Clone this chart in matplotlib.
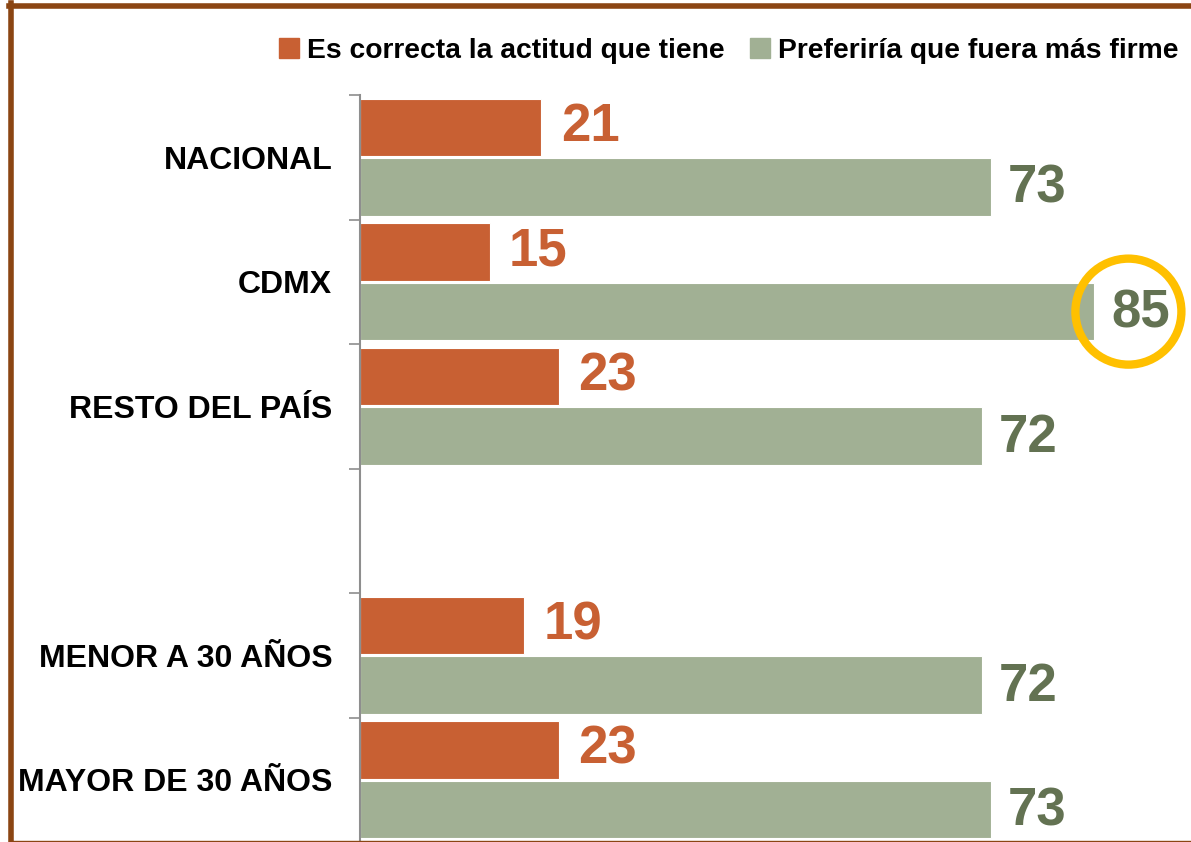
import matplotlib
matplotlib.use("Agg")
import matplotlib.pyplot as plt
from matplotlib.patches import Ellipse
from matplotlib.lines import Line2D
import numpy as np

plt.rcParams['font.family'] = ['Liberation Sans', 'DejaVu Sans']

categories = ["NACIONAL", "CDMX", "RESTO DEL PAÍS", "", "MENOR A 30 AÑOS", "MAYOR DE 30 AÑOS"]
correcta = [21, 15, 23, None, 19, 23]
firme = [73, 85, 72, None, 72, 73]
series_names = ["Es correcta la actitud que tiene", "Preferiría que fuera más firme"]
highlight_index = 1  # CDMX firme

c_orange = "#C86033"
c_green = "#A1B094"
c_green_txt = "#637252"
c_border = "#8B4513"

W, H = 1191, 842
fig = plt.figure(figsize=(W/100, H/100), dpi=100)
ax_left = 360 / W
ax_top = 1 - 95 / H
ax = fig.add_axes([ax_left, 0, 1 - ax_left, ax_top])

px_per_unit = 8.64
ax.set_xlim(0, (W - 360) / px_per_unit)
ax.set_ylim(len(categories) - 0.5, -0.5)

y = np.arange(len(categories))
off = 0.24
h = 0.46
for i in range(len(categories)):
    if correcta[i] is None:
        continue
    ax.barh(y[i] - off, correcta[i], height=h, color=c_orange, edgecolor="white", linewidth=0.8)
    ax.barh(y[i] + off, firme[i], height=h, color=c_green, edgecolor="white", linewidth=0.8)
    ax.annotate(str(correcta[i]), (correcta[i], y[i] - off), xytext=(14, 0), textcoords="offset points",
                ha="left", va="center", fontsize=38, fontweight="bold", color=c_orange)
    ax.annotate(str(firme[i]), (firme[i], y[i] + off), xytext=(12, -1), textcoords="offset points",
                ha="left", va="center", fontsize=38, fontweight="bold", color=c_green_txt)

# category labels
ax.set_yticks(y)
ax.set_yticklabels(categories, fontsize=23, fontweight="bold")
ax.tick_params(axis="y", length=0, pad=20)
ax.set_yticks(np.arange(len(categories) + 1) - 0.5, minor=True)
ax.tick_params(axis="y", which="minor", length=8, color="#8E8E8E", width=1.2)
ax.set_xticks([])
for s in ["top", "right", "bottom"]:
    ax.spines[s].set_visible(False)
ax.spines["left"].set_color("#8E8E8E")
ax.spines["left"].set_linewidth(1.5)

# legend
handles = [plt.Rectangle((0, 0), 1, 1, color=c_orange), plt.Rectangle((0, 0), 1, 1, color=c_green)]
leg = fig.legend(handles, series_names, loc="center", bbox_to_anchor=(729 / W, 1 - 51 / H), ncol=2,
                 frameon=False, prop={"size": 20.3, "weight": "bold"}, handlelength=0.7, handleheight=0.7,
                 handletextpad=0.3, columnspacing=0.9, borderpad=0.2)

# highlight circle
fig.canvas.draw()
cx, cy = ax.transData.transform((firme[highlight_index], y[highlight_index] + off))
cx += 34
r = 53
fig.add_artist(Ellipse((cx / W, cy / H), 2 * r / W, 2 * r / H, transform=fig.transFigure,
                       fill=False, edgecolor="#FFC000", linewidth=6, zorder=5))

# border
fig.add_artist(Line2D([10.5 / W, 10.5 / W], [0, 1 - 3 / H], transform=fig.transFigure, color=c_border, linewidth=4))
fig.add_artist(Line2D([8.5 / W, 1], [1 - 5.5 / H, 1 - 5.5 / H], transform=fig.transFigure, color=c_border, linewidth=4))
fig.add_artist(Line2D([10 / W, 1], [1 / H, 1 / H], transform=fig.transFigure, color=c_border, linewidth=1))

fig.savefig("out.png", dpi=100)
